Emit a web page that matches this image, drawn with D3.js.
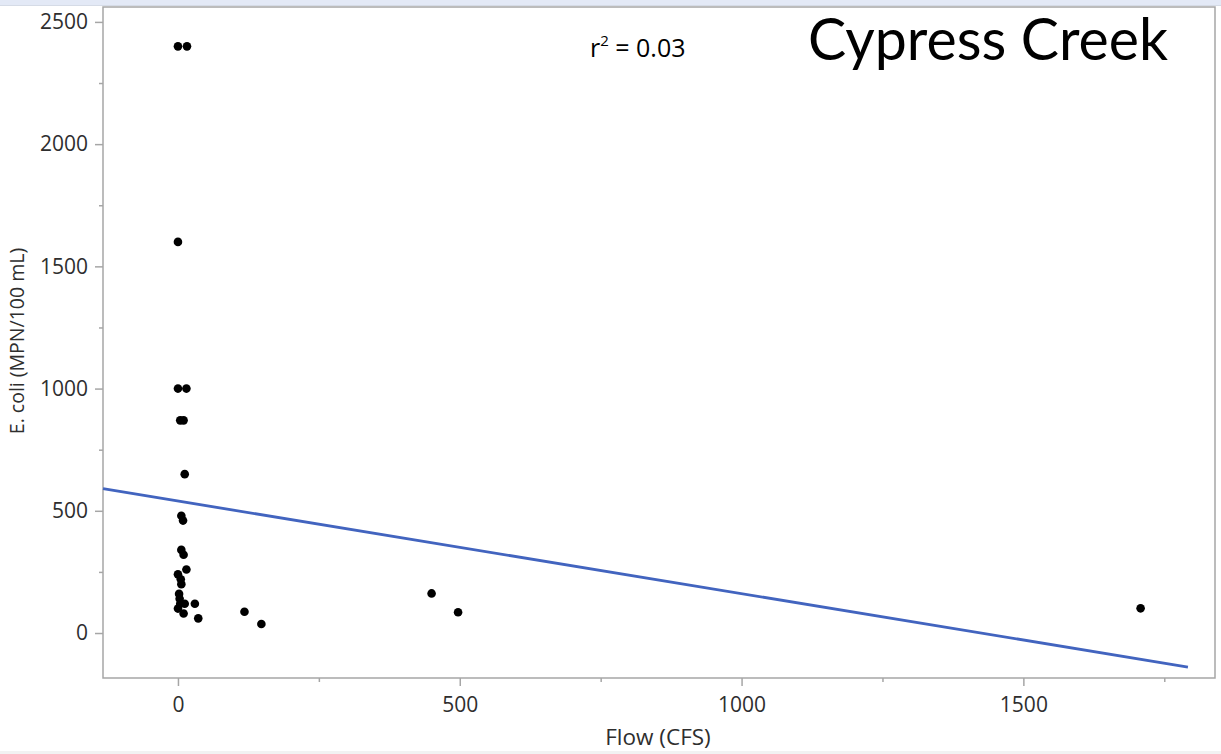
<!DOCTYPE html>
<html>
<head>
<meta charset="utf-8">
<script src="https://cdn.jsdelivr.net/npm/d3@7"></script>
<style>
  html, body { margin: 0; padding: 0; background: #fff; }
  svg { display: block; font-family: "Open Sans", "Noto Sans", sans-serif; }
  .tick text { fill: #2e2e2e; font-size: 21px; }
  .tick line { stroke: #a6a6a6; stroke-width: 1.5; }
  .domain { display: none; }
</style>
</head>
<body>
<svg id="chart" width="1221" height="754"></svg>
<script>
// Cypress Creek — E. coli vs flow, scatter + linear fit
const flowCfs = [0, 16, 0, 0, 15, 4, 10, 12, 6, 9, 6, 10, 15, 0, 5, 6, 2, 3, 4, 12, 30, 0, 10, 36, 118, 148, 450, 497, 1708];
const ecoli   = [2400, 2400, 1600, 1000, 1000, 870, 870, 650, 480, 460, 340, 320, 260, 240, 220, 200, 160, 140, 120, 120, 120, 100, 80, 60, 87, 37, 162, 85, 101];

// fitted line
const fitIntercept = 540;
const fitSlope = -0.379;
const fitFlowRange = [-133, 1792];

const xMajorTicks = [0, 500, 1000, 1500];
const xMinorTicks = [250, 750, 1250, 1750];
const yMajorTicks = [0, 500, 1000, 1500, 2000, 2500];
const yMinorTicks = [250, 750, 1250, 1750, 2250];

const r2Label = "0.03";
const title = "Cypress Creek";
const xTitle = "Flow (CFS)";
const yTitle = "E. coli (MPN/100 mL)";

const svg = d3.select("#chart");
const W = 1221, H = 754;
const frame = { left: 103, right: 1215, top: 7, bottom: 678 };

// window chrome strips
svg.append("rect").attr("x", 0).attr("y", 0).attr("width", W).attr("height", 5).attr("fill", "#e3e9f6");
svg.append("rect").attr("x", 0).attr("y", 5).attr("width", W).attr("height", 1).attr("fill", "#d5dbe6");
svg.append("rect").attr("x", 0).attr("y", 751).attr("width", W).attr("height", 3).attr("fill", "#f2f2f2");

const x = d3.scaleLinear().domain([-133, 1840]).range([frame.left, frame.right]);
const y = d3.scaleLinear().domain([-184, 2561]).range([frame.bottom, frame.top]);

// axes
const gx = svg.append("g").attr("transform", `translate(0,${frame.bottom})`);
gx.call(d3.axisBottom(x).tickValues(xMajorTicks).tickSize(8).tickPadding(11).tickFormat(d3.format("d")));
gx.append("g").call(d3.axisBottom(x).tickValues(xMinorTicks).tickSize(4).tickFormat(""));

const gy = svg.append("g").attr("transform", `translate(${frame.left},0)`);
gy.call(d3.axisLeft(y).tickValues(yMajorTicks).tickSize(8).tickPadding(7).tickFormat(d3.format("d")));
gy.append("g").call(d3.axisLeft(y).tickValues(yMinorTicks).tickSize(4).tickFormat(""));
svg.selectAll(".tick text").attr("font-family", "'Open Sans', sans-serif");

// plot frame
svg.append("rect")
  .attr("x", frame.left).attr("y", frame.top)
  .attr("width", frame.right - frame.left).attr("height", frame.bottom - frame.top)
  .attr("fill", "none").attr("stroke", "#a6a6a6").attr("stroke-width", 1.5);

// fit line
svg.append("line")
  .attr("x1", x(fitFlowRange[0])).attr("y1", y(fitIntercept + fitSlope * fitFlowRange[0]))
  .attr("x2", x(fitFlowRange[1])).attr("y2", y(fitIntercept + fitSlope * fitFlowRange[1]))
  .attr("stroke", "#4264bf").attr("stroke-width", 2.8);

// points
svg.append("g").selectAll("circle")
  .data(flowCfs.map((f, i) => [f, ecoli[i]]))
  .join("circle")
  .attr("cx", d => x(d[0])).attr("cy", d => y(d[1]))
  .attr("r", 4.3).attr("fill", "#000");

// axis titles
svg.append("text")
  .attr("x", 658).attr("y", 745).attr("text-anchor", "middle")
  .attr("font-size", 22.5).attr("fill", "#2e2e2e").text(xTitle);
svg.append("text")
  .attr("transform", "translate(24,341) rotate(-90)").attr("text-anchor", "middle")
  .attr("font-size", 19.5).attr("fill", "#2e2e2e").text(yTitle);

// r² annotation
const r2 = svg.append("text").attr("x", 590).attr("y", 57).attr("font-size", 25).attr("fill", "#000");
r2.append("tspan").text("r");
r2.append("tspan").attr("font-size", 15).attr("dy", -11).text("2");
r2.append("tspan").attr("dy", 11).text(" = " + r2Label);

// title
svg.append("text")
  .attr("x", 808).attr("y", 60)
  .attr("font-family", "Lato, 'Open Sans', sans-serif")
  .attr("font-size", 58).attr("fill", "#000")
  .attr("textLength", 360).attr("lengthAdjust", "spacingAndGlyphs")
  .text(title);
</script>
</body>
</html>
